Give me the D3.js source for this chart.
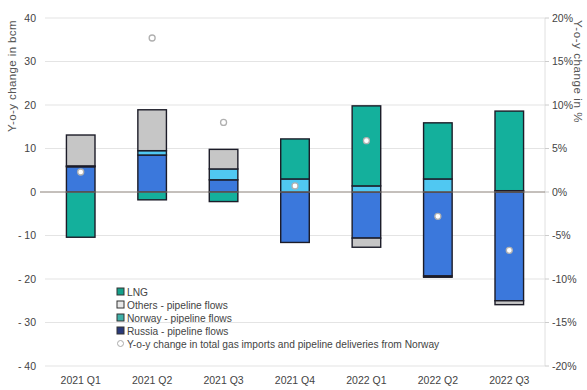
<!DOCTYPE html>
<html>
<head>
<meta charset="utf-8">
<script src="https://cdn.jsdelivr.net/npm/d3@7"></script>
<style>
    body { margin: 0; background: #fff; }
    svg { font-family: "Liberation Sans", Arial, sans-serif; }
</style>
</head>
<body>
<div id="chart"></div>
<script>
// data (bcm, y-o-y change)
const quarters = ["2021 Q1", "2021 Q2", "2021 Q3", "2021 Q4", "2022 Q1", "2022 Q2", "2022 Q3"];
const russia = [5.8, 8.5, 2.8, -11.6, -10.6, -19.3, -25.0];
const norway = [0.2, 1.0, 2.5, 3.0, 1.4, 3.0, 0.3];
const others = [7.1, 9.4, 4.5, 0, -2.1, -0.3, -0.9];
const lng = [-10.4, -1.8, -2.2, 9.2, 18.4, 12.9, 18.3];
const yoyPct = [2.3, 17.7, 8.0, 0.7, 5.9, -2.8, -6.7];

const leftTicks = [40, 30, 20, 10, 0, -10, -20, -30, -40];
const rightTicks = [20, 15, 10, 5, 0, -5, -10, -15, -20];

const seriesKeys = ["russia", "norway", "others", "lng"];
const colors = { lng: "#14b09c", others: "#c6c6c6", norway: "#50c8f2", russia: "#3b78dc" };
const legendItems = [
    { key: "lng", label: "LNG", fill: "#14a08a" },
    { key: "others", label: "Others - pipeline flows", fill: "#e8e8e8" },
    { key: "norway", label: "Norway - pipeline flows", fill: "#3fb0a8" },
    { key: "russia", label: "Russia - pipeline flows", fill: "#2a3a7a" },
    { key: "yoy", label: "Y-o-y change in total gas imports and pipeline deliveries from Norway" }
];

let width = 587, height = 390,
    margin = { top: 18, right: 42, bottom: 24, left: 45 };

let svg = d3.select("#chart").append("svg")
    .attr("width", width)
    .attr("height", height);

let rows = quarters.map((q, i) => ({
    q: q, russia: russia[i], norway: norway[i], others: others[i], lng: lng[i], yoy: yoyPct[i]
}));

let x = d3.scaleBand()
    .domain(quarters)
    .range([margin.left, width - margin.right])
    .paddingInner(0.6)
    .paddingOuter(0.3);

let y = d3.scaleLinear()
    .domain([-40, 40])
    .range([height - margin.bottom, margin.top]);

let yRight = d3.scaleLinear()
    .domain([-20, 20])
    .range([height - margin.bottom, margin.top]);

// 网格线
svg.append("g")
    .selectAll("line")
    .data(leftTicks.filter(d => d !== 0))
    .enter()
    .append("line")
    .attr("x1", margin.left)
    .attr("x2", width - margin.right)
    .attr("y1", d => y(d))
    .attr("y2", d => y(d))
    .style("stroke", "#e4e4e4")
    .style("stroke-width", 1.2);

// left axis labels
svg.append("g")
    .selectAll("text")
    .data(leftTicks)
    .enter()
    .append("text")
    .attr("x", 36)
    .attr("y", d => y(d) + 3.5)
    .attr("text-anchor", "end")
    .style("font-size", "10.5px")
    .style("fill", "#444")
    .text(d => d < 0 ? "- " + Math.abs(d) : d);

// right axis
svg.append("line")
    .attr("x1", width - margin.right)
    .attr("x2", width - margin.right)
    .attr("y1", margin.top)
    .attr("y2", height - margin.bottom)
    .style("stroke", "#e0e0e0");

let rAxis = svg.append("g");
rAxis.selectAll("line")
    .data(rightTicks)
    .enter()
    .append("line")
    .attr("x1", width - margin.right)
    .attr("x2", width - margin.right + 4)
    .attr("y1", d => yRight(d))
    .attr("y2", d => yRight(d))
    .style("stroke", "#ccc");
rAxis.selectAll("text")
    .data(rightTicks)
    .enter()
    .append("text")
    .attr("x", width - margin.right + 7)
    .attr("y", d => yRight(d) + 3.5)
    .style("font-size", "10.5px")
    .style("fill", "#444")
    .text(d => d + "%");

// axis titles
svg.append("text")
    .attr("transform", "translate(16," + 20 + ") rotate(-90)")
    .attr("text-anchor", "end")
    .style("font-size", "11.5px")
    .style("letter-spacing", "0.4px")
    .style("fill", "#555")
    .text("Y-o-y change in bcm");

svg.append("text")
    .attr("transform", "translate(574," + 20 + ") rotate(90)")
    .attr("text-anchor", "start")
    .style("font-size", "11.5px")
    .style("letter-spacing", "0.6px")
    .style("fill", "#555")
    .text("Y-o-y change in %");

// stacked bars
let stacked = d3.stack()
    .keys(seriesKeys)
    .offset(d3.stackOffsetDiverging)(rows);

svg.append("g")
    .selectAll("g")
    .data(stacked)
    .enter()
    .append("g")
    .style("fill", d => colors[d.key])
    .selectAll("rect")
    .data(d => d.filter(s => s[1] - s[0] !== 0))
    .enter()
    .append("rect")
    .attr("x", d => x(d.data.q))
    .attr("y", d => y(Math.max(d[0], d[1])))
    .attr("width", x.bandwidth())
    .attr("height", d => Math.abs(y(d[0]) - y(d[1])))
    .style("stroke", "#1c1c28")
    .style("stroke-width", 1.4);

// zero line
svg.append("line")
    .attr("x1", margin.left - 5)
    .attr("x2", width - margin.right)
    .attr("y1", y(0))
    .attr("y2", y(0))
    .style("stroke", "#8a8078")
    .style("stroke-width", 1);

// y-o-y points on right axis
svg.append("g")
    .selectAll("circle")
    .data(rows)
    .enter()
    .append("circle")
    .attr("cx", d => x(d.q) + x.bandwidth() / 2)
    .attr("cy", d => yRight(d.yoy))
    .attr("r", 3)
    .style("fill", "#fff")
    .style("stroke", "#b0b0b0")
    .style("stroke-width", 1.3);

// x labels
svg.append("g")
    .selectAll("text")
    .data(quarters)
    .enter()
    .append("text")
    .attr("x", d => x(d) + x.bandwidth() / 2)
    .attr("y", 384)
    .attr("text-anchor", "middle")
    .style("font-size", "10.5px")
    .style("fill", "#444")
    .text(d => d);

// legend
let legend = svg.append("g")
    .attr("transform", "translate(117,288)");

let items = legend.selectAll("g")
    .data(legendItems)
    .enter()
    .append("g")
    .attr("transform", (d, i) => "translate(0," + (i * 13) + ")");

items.filter(d => d.key !== "yoy")
    .append("rect")
    .attr("x", 0)
    .attr("y", 0)
    .attr("width", 7)
    .attr("height", 7)
    .style("fill", d => d.fill)
    .style("stroke", "#333")
    .style("stroke-width", 1);

items.filter(d => d.key === "yoy")
    .append("circle")
    .attr("cx", 3.5)
    .attr("cy", 3.5)
    .attr("r", 3)
    .style("fill", "#fff")
    .style("stroke", "#aaa");

items.append("text")
    .attr("x", 10)
    .attr("y", 7.5)
    .style("font-size", "10.2px")
    .style("fill", "#444")
    .text(d => d.label);
</script>
</body>
</html>
